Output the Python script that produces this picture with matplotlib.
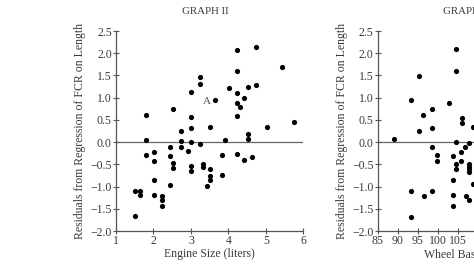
import matplotlib
matplotlib.use("Agg")
import matplotlib.pyplot as plt

# ---- data ----
engine_size = [1.51, 1.63, 1.64, 1.52, 1.81, 1.81, 1.81, 2.02, 2.02, 2.02, 2.02,
               2.23, 2.23, 2.23, 2.43, 2.43, 2.43, 2.52, 2.52, 2.52, 2.73, 2.73,
               2.73, 2.92, 3.01, 3.01, 3.01, 3.01, 3.01, 3.01, 3.23, 3.23, 3.23,
               3.32, 3.32, 3.42, 3.52, 3.52, 3.52, 3.52, 3.63, 3.82, 3.82, 3.92,
               4.02, 4.23, 4.23, 4.23, 4.23, 4.23, 4.23, 4.32, 4.42, 4.42, 4.53,
               4.53, 4.53, 4.64, 4.74, 4.74, 5.03, 5.43, 5.74]
resid_engine = [-1.09, -1.09, -1.20, -1.67, 0.62, 0.05, -0.30, -0.23, -0.42, -0.86, -1.20,
                -1.22, -1.30, -1.44, -0.11, -0.32, -0.96, 0.74, -0.47, -0.59, 0.24, 0.03,
                -0.10, -0.21, 1.13, 0.56, 0.31, 0.01, -0.53, -0.66, 1.47, 1.31, -0.04,
                -0.50, -0.56, -0.98, 0.35, -0.60, -0.77, -0.86, 0.94, -0.29, -0.74, 0.05,
                1.21, 2.07, 1.59, 1.10, 0.89, 0.59, -0.26, 0.78, 0.99, -0.40, 1.25,
                0.18, 0.08, -0.34, 2.15, 1.28, 0.35, 1.68, 0.45]

wheel_base = [104.6, 104.6, 95.2, 93.2, 102.8, 98.5, 96.4, 106.0, 106.0, 108.75,
              95.2, 98.5, 89.1, 98.5, 99.75, 99.75, 104.6, 103.75, 104.6, 104.6,
              105.8, 105.8, 106.8, 107.8, 107.8, 107.8, 107.8, 107.8, 103.75, 108.9,
              93.25, 98.5, 96.6, 103.75, 107.0, 107.9, 103.75, 93.25]
resid_wheel = [2.09, 1.59, 1.48, 0.95, 0.89, 0.75, 0.62, 0.55, 0.43, 0.35,
               0.24, 0.31, 0.07, -0.11, -0.29, -0.42, 0.01, -0.31, -0.50, -0.61,
               -0.22, -0.42, -0.10, -0.02, -0.49, -0.55, -0.61, -0.68, -0.85, -0.95,
               -1.09, -1.09, -1.22, -1.19, -1.22, -1.30, -1.43, -1.68]

y_ticks = [-2.0, -1.5, -1.0, -0.5, 0.0, 0.5, 1.0, 1.5, 2.0, 2.5]
x_ticks_left = [1, 2, 3, 4, 5, 6]
x_ticks_right = [85, 90, 95, 100, 105]
ylabel = "Residuals from Regression of FCR on Length"

plt.rcParams['font.family'] = ['Liberation Serif', 'DejaVu Serif']
TXT = '#3a3a3a'
AX = '#555555'

fig = plt.figure(figsize=(4.74, 2.66), dpi=100)
W, H = 474.0, 266.0
ax1 = fig.add_axes([116 / W, (266 - 231) / H, 187.3 / W, 200 / H])
ax2 = fig.add_axes([377.7 / W, (266 - 231) / H, 160 / W, 200 / H])


def style(ax, xt, xlim):
    ax.set_xlim(*xlim)
    ax.set_ylim(-2.0, 2.5)
    ax.set_xticks(xt)
    ax.set_xticklabels([str(v) for v in xt])
    ax.set_yticks(y_ticks)
    ax.set_yticklabels([f"{v:.1f}".replace('-', '\u2212') for v in y_ticks])
    for s in ('top', 'right'):
        ax.spines[s].set_visible(False)
    for s in ('left', 'bottom'):
        ax.spines[s].set_color(AX)
        ax.spines[s].set_linewidth(0.9)
    ax.tick_params(direction='inout', length=4, width=0.8, color=AX,
                   labelsize=8.5, labelcolor=TXT, pad=1)
    ax.axhline(0, color='#666666', lw=0.9, zorder=1)
    ax.set_ylabel(ylabel, fontsize=8.5, color=TXT, labelpad=3)


style(ax1, x_ticks_left, (1, 6))
style(ax2, x_ticks_right, (85, 125))

ax1.scatter(engine_size, resid_engine, s=14, color='black', zorder=3, linewidths=0)
ax2.scatter(wheel_base, resid_wheel, s=14, color='black', zorder=3, linewidths=0,
            clip_on=False)

ax1.text(3.42, 0.92, 'A', fontsize=8, color='#555555', ha='center', va='center')

ax1.set_xlabel('Engine Size (liters)', fontsize=8.5, color=TXT)
ax2.set_xlabel('Wheel Base (inches)', fontsize=8.5, color=TXT, ha='left')
ax1.xaxis.set_label_coords(0.5, -0.085)
ax2.xaxis.set_label_coords((424 - 377.7) / 160, -0.085)

fig.text(205 / W, 1 - 11.5 / H, 'GRAPH II', fontsize=7.8, color=TXT,
         ha='center', va='center')
fig.text(443 / W, 1 - 11.5 / H, 'GRAPH III', fontsize=7.8, color=TXT,
         ha='left', va='center')

fig.savefig('out.png', dpi=100, facecolor='white')
